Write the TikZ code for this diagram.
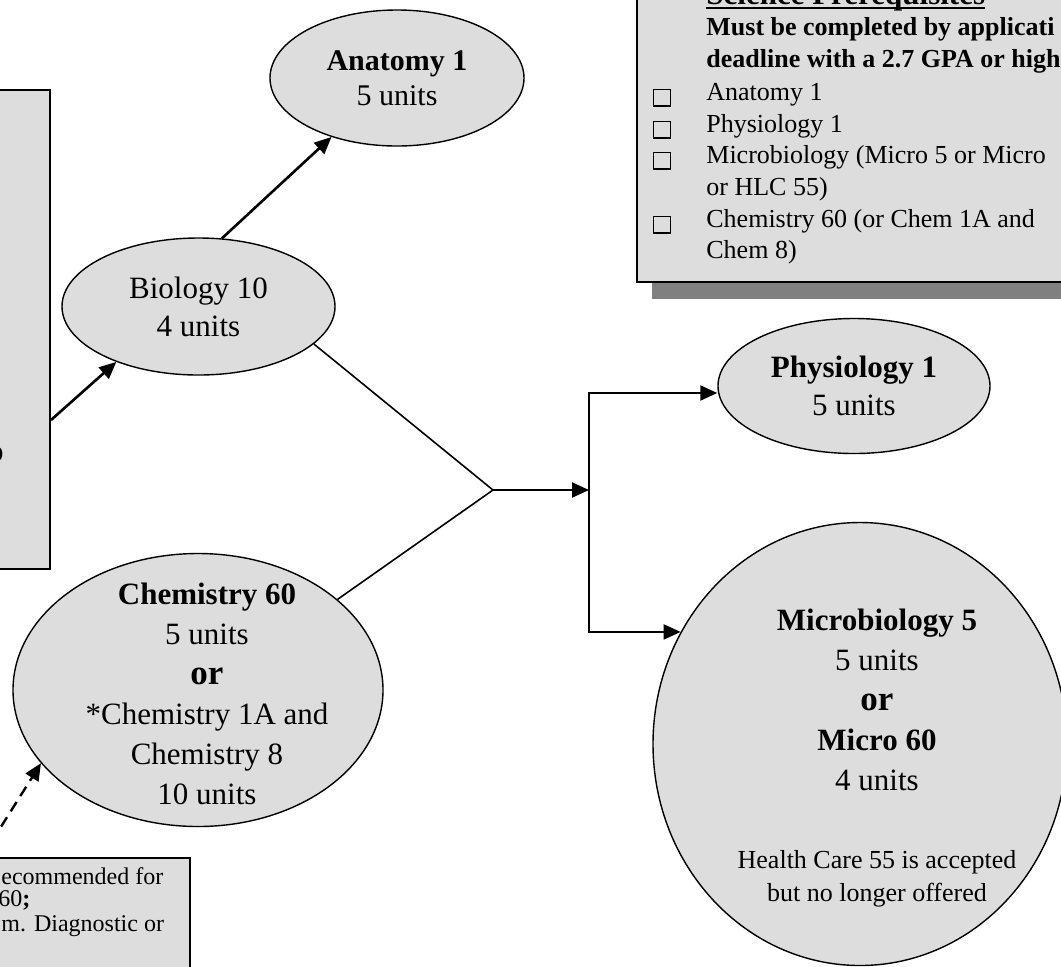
\documentclass[tikz,border=0pt]{standalone}
\usepackage{fontspec}
\setmainfont{Liberation Serif}
\usetikzlibrary{shapes.geometric,arrows.meta,shadows}
\definecolor{boxgray}{RGB}{221,221,221}

\begin{document}
\begin{tikzpicture}[x=0.5pt,y=-0.5pt,>={Triangle[length=8.5pt,width=7.5pt]},
		cv/.style={draw,ellipse,fill=boxgray,line width=0.7pt,inner sep=0pt},
		ct/.style={align=center,inner sep=0pt,font=\fontsize{15.5}{20}\selectfont},
		nb/.style={draw,rectangle,fill=boxgray,line width=1pt,inner sep=0pt},
		cb/.style={draw,rectangle,minimum size=8.3pt,inner sep=0pt,line width=0.7pt},
		pl/.style={anchor=base west,inner sep=0pt,font=\fontsize{13}{15}\selectfont},
		ar/.style={->,line width=1pt}]
	\useasboundingbox (0,0) rectangle (1061,966);

	% boxes
	\node[nb,minimum width=100pt,minimum height=239.5pt] (lbox) at (-50,329.5) {};
	\node[nb,minimum width=208pt,minimum height=121pt] (nbox) at (-18,979) {};
	\node[nb,minimum width=246.5pt,minimum height=186pt,
		drop shadow={shadow xshift=7.5pt,shadow yshift=-8.5pt,fill=black!50,opacity=1}] (prq) at (883.5,96) {};

	% courses
	\node[cv,ct,minimum width=127pt,minimum height=68pt,font=\fontsize{15}{17.5}\selectfont] (ana) at (397,78)
		{\textbf{Anatomy 1}\\5 units};
	\node[cv,ct,minimum width=136.5pt,minimum height=68.5pt,font=\fontsize{15.5}{19}\selectfont] (bio) at (198.5,306.5)
		{Biology 10\\4 units};
	\node[cv,ct,minimum width=136pt,minimum height=67.5pt,font=\fontsize{15.5}{19}\selectfont] (phy) at (854,386)
		{\textbf{Physiology 1}\\5 units};
	\node[cv,minimum width=185pt,minimum height=136.5pt,
		label={[ct,name=chemt,xshift=4.5pt,yshift=-2pt]center:{\textbf{Chemistry 60}\\5 units\\{\fontsize{17.5}{20}\selectfont\textbf{or}}\\{}*Chemistry 1A and\\Chemistry 8\\10 units}}] (chem) at (198,690) {};
	\node[cv,minimum width=207pt,minimum height=221.5pt,
		label={[ct,name=mict,xshift=8.5pt,yshift=22.25pt]center:{\textbf{Microbiology 5}\\5 units\\{\fontsize{17.5}{20}\selectfont\textbf{or}}\\\textbf{Micro 60}\\4 units}},
		label={[ct,name=micn,font=\fontsize{13}{16.5}\selectfont,xshift=8.5pt,yshift=-67.25pt]center:{Health Care 55 is accepted\\but no longer offered}}] (mic) at (860,744) {};

	% connectors
	\coordinate (jn) at (493,490);
	\coordinate (sp) at (589,490);
	\coordinate (sp1) at (589,393);
	\draw[ar,line width=1.3pt] ([yshift=-45.25pt]lbox.east) -- (bio.214);
	\draw[ar,line width=1.3pt] (bio.71) -- (ana.222);
	\draw[line width=0.8pt] (bio.342) -- (jn) -- (chem.33);
	\draw[ar] (jn) -- (sp);
	\draw[<->,line width=1pt] (sp1 -| phy.west) -- (sp1) -- (sp1 |- mic.148) -- (mic.148);
	\draw[->,line width=1.2pt,dash pattern=on 5.5pt off 3.5pt] (nbox.north) -- (chem.205);

	% texts in the boxes
	\node[anchor=base east,inner sep=0pt,font=\fontsize{15.5}{19}\selectfont] (lfrag) at (4,461) {o};
	\node[pl,font=\fontsize{12}{15}\selectfont] (nt1) at (1,884) {ecommended for};
	\node[pl,font=\fontsize{12}{15}\selectfont] (nt2) at (-2,906) {60\textbf{;}};
	\node[pl,font=\fontsize{12}{15}\selectfont] (nt3) at (1,931) {m. Diagnostic or};

	\node[pl,font=\fontsize{15.5}{18}\selectfont\bfseries] (ttl) at (706,4) {Science Prerequisites};
	\draw[line width=1pt] ([yshift=-2pt]ttl.base west) -- ([yshift=-2pt]ttl.base east);
	\node[pl,font=\fontsize{13}{15}\selectfont\bfseries] (must) at (706,35) {Must be completed by applicati};
	\node[pl,font=\fontsize{13}{15}\selectfont\bfseries] (dead) at (706,67) {deadline with a 2.7 GPA or high};
	\foreach \yy/\tx [count=\i] in {100/Anatomy 1,132/Physiology 1,163/Microbiology (Micro 5 or Micro,
			195/or HLC 55),227/Chemistry 60 (or Chem 1A and,258/Chem 8)}
		\node[pl] (item\i) at (706,\yy) {\tx};
	\foreach \yy [count=\i] in {100,132,163,227}
		\node[cb] (box\i) at (662,\yy-2.5) {};
\end{tikzpicture}
\end{document}
